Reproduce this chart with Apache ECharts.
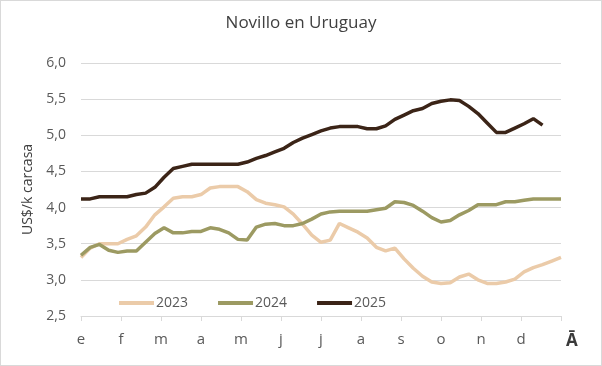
<!DOCTYPE html>
<html>
<head>
<meta charset="utf-8">
<script src="https://cdn.jsdelivr.net/npm/echarts@6/dist/echarts.min.js"></script>
<style>
html,body{margin:0;padding:0;background:#fff;}
#c{width:602px;height:366px;box-sizing:border-box;border:1px solid #d9d9d9;}
</style>
</head>
<body>
<div id="c"></div>
<script>
var monthLabels = ['e','f','m','a','m','j','j','a','s','o','n','d'];
var endLabel = 'Ā';
var seriesNames = ['2023','2024','2025'];
var yTicks = [2.5,3.0,3.5,4.0,4.5,5.0,5.5,6.0];

var v2023 = [3.31,3.44,3.50,3.50,3.50,3.56,3.61,3.73,3.90,4.01,4.13,4.15,4.15,4.18,4.27,4.29,4.29,4.29,4.22,4.11,4.06,4.04,4.01,3.91,3.77,3.62,3.52,3.55,3.78,3.72,3.66,3.58,3.45,3.40,3.44,3.29,3.16,3.05,2.97,2.95,2.96,3.04,3.08,3.00,2.95,2.95,2.97,3.01,3.11,3.17,3.21,3.26,3.31];
var v2024 = [3.34,3.45,3.49,3.41,3.38,3.40,3.40,3.52,3.64,3.72,3.65,3.65,3.67,3.67,3.72,3.70,3.65,3.56,3.55,3.73,3.77,3.78,3.75,3.75,3.78,3.84,3.91,3.94,3.95,3.95,3.95,3.95,3.97,3.99,4.08,4.07,4.03,3.95,3.86,3.80,3.82,3.90,3.96,4.04,4.04,4.04,4.08,4.08,4.10,4.12,4.12,4.12,4.12];
var v2025 = [4.12,4.12,4.15,4.15,4.15,4.15,4.18,4.20,4.28,4.42,4.54,4.57,4.60,4.60,4.60,4.60,4.60,4.60,4.63,4.68,4.72,4.77,4.82,4.90,4.96,5.01,5.06,5.10,5.12,5.12,5.12,5.09,5.09,5.13,5.22,5.28,5.34,5.37,5.44,5.47,5.49,5.48,5.40,5.30,5.17,5.04,5.04,5.10,5.16,5.23,5.14];

var colors = ['#EBCBA9','#9C9A62','#3B2417'];
var weeks = 52;

function pairs(arr){ return arr.map(function(v,i){ return [i,v]; }); }

var chart = echarts.init(document.getElementById('c'));
var font = '"Open Sans", "Liberation Sans", sans-serif';
chart.setOption({
  animation:false,
  title:{text:'Novillo en Uruguay',left:'center',top:9,
    textStyle:{fontFamily:font,fontSize:17,fontWeight:'normal',color:'#404040'}},
  grid:{left:80,right:40,top:62,bottom:49},
  legend:{data:seriesNames,left:113,top:290,itemWidth:35,itemHeight:4,itemGap:30,icon:'rect',
    textStyle:{fontFamily:font,fontSize:14,color:'#595959',padding:[0,0,0,-3]}},
  xAxis:{type:'value',min:0,max:weeks,interval:weeks/12,
    axisLine:{show:true,lineStyle:{color:'#d9d9d9',width:1}},
    axisTick:{show:true,length:5,lineStyle:{color:'#d9d9d9'}},
    splitLine:{show:false},
    axisLabel:{margin:16,fontFamily:font,fontSize:15,color:'#595959',
      formatter:function(v){ var i=Math.round(v/(weeks/12)); return monthLabels[i]||''; }}},
  yAxis:{type:'value',min:yTicks[0],max:yTicks[yTicks.length-1],interval:0.5,
    name:'US$/k carcasa',nameLocation:'middle',nameGap:44,
    nameTextStyle:{fontFamily:font,fontSize:14,color:'#404040'},
    axisLine:{show:false},axisTick:{show:false},
    splitLine:{lineStyle:{color:'#d9d9d9',width:1}},
    axisLabel:{margin:15,fontFamily:font,fontSize:14,color:'#595959',
      formatter:function(v){ return v.toFixed(1).replace('.',','); }}},
  graphic:[{type:'text',left:565,top:332,style:{text:endLabel,fontFamily:font,fontSize:17,fontWeight:'bold',fill:'#3a3a3a'}}],
  series:[
    {name:seriesNames[0],type:'line',data:pairs(v2023),symbol:'none',lineStyle:{width:3.5,color:colors[0]},itemStyle:{color:colors[0]}},
    {name:seriesNames[1],type:'line',data:pairs(v2024),symbol:'none',lineStyle:{width:3.5,color:colors[1]},itemStyle:{color:colors[1]}},
    {name:seriesNames[2],type:'line',data:pairs(v2025),symbol:'none',lineStyle:{width:3.5,color:colors[2]},itemStyle:{color:colors[2]}}
  ]
});
</script>
</body>
</html>
